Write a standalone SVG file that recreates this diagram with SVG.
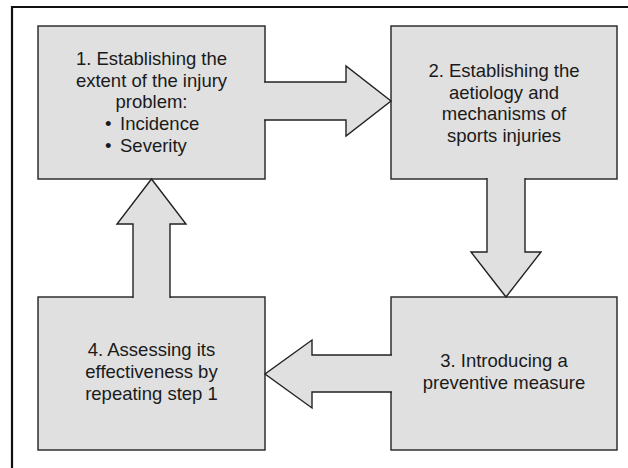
<svg xmlns="http://www.w3.org/2000/svg" width="628" height="468" viewBox="0 0 628 468">
<style>
.box{fill:#e0e0e0;stroke:#222;stroke-width:1.4}
.arr{fill:#e0e0e0;stroke:#222;stroke-width:1.4;stroke-linejoin:miter}
.t{font-family:"Liberation Sans",Arial,sans-serif;font-size:18.5px;fill:#1a1a1a;text-anchor:middle}
.tl{font-family:"Liberation Sans",Arial,sans-serif;font-size:18.5px;fill:#1a1a1a}
</style>
<rect width="628" height="468" fill="#ffffff"/>
<path d="M12,468 V7 H628" fill="none" stroke="#111" stroke-width="2.2"/>
<g id="node1">
<rect class="box" x="38" y="26" width="227" height="153"/>
<text class="t" x="151.5" y="65">1. Establishing the</text>
<text class="t" x="151.5" y="86.7">extent of the injury</text>
<text class="t" x="151.5" y="108.3">problem:</text>
<text class="tl" y="130"><tspan x="105">•</tspan><tspan x="120">Incidence</tspan></text>
<text class="tl" y="151.7"><tspan x="105">•</tspan><tspan x="120">Severity</tspan></text>
</g>
<g id="node2">
<rect class="box" x="391" y="26" width="226" height="153"/>
<text class="t" x="504" y="77">2. Establishing the</text>
<text class="t" x="504" y="98.7">aetiology and</text>
<text class="t" x="504" y="120.3">mechanisms of</text>
<text class="t" x="504" y="142">sports injuries</text>
</g>
<g id="node3">
<rect class="box" x="391" y="297" width="226" height="153"/>
<text class="t" x="504" y="367">3. Introducing a</text>
<text class="t" x="504" y="389">preventive measure</text>
</g>
<g id="node4">
<rect class="box" x="38" y="297" width="227" height="153"/>
<text class="t" x="151.5" y="356">4. Assessing its</text>
<text class="t" x="151.5" y="378">effectiveness by</text>
<text class="t" x="151.5" y="400">repeating step 1</text>
</g>
<g id="connectors">
<path class="arr" d="M264,82 H346 V66 L391,101 L346,136 V120 H264"/>
<path class="arr" d="M487,178 V252 H471 L506,297 L541,252 H525 V178"/>
<path class="arr" d="M392,355 H312 V340 L265,374 L312,408 V392 H392"/>
<path class="arr" d="M133,298 V224 H117 L151.5,179 L186,224 H170 V298"/>
</g>
</svg>
